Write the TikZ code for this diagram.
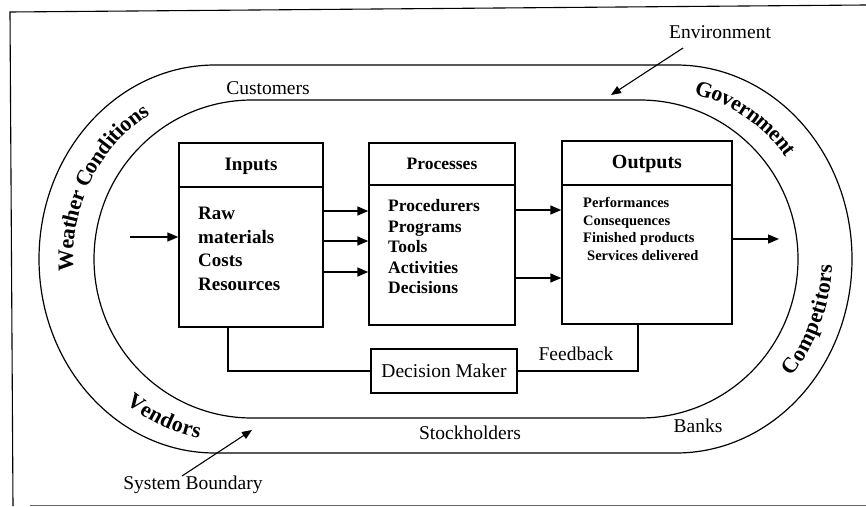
\documentclass[tikz,border=0pt]{standalone}
\usepackage{fontspec}
\setmainfont{Liberation Serif}
\usetikzlibrary{arrows.meta,decorations.text}

\begin{document}
\begin{tikzpicture}[x=1pt,y=-1pt,
  frameline/.style={line width=1.1pt},
  ovalline/.style={line width=1.2pt},
  boxline/.style={draw,line width=1.4pt,inner sep=0pt},
  link/.style={line width=1.3pt},
  arr/.style={line width=1.4pt,-{Triangle[length=11pt,width=9pt]}},
  thinarr/.style={line width=1.1pt,-{Triangle[length=10pt,width=8pt]}},
  lbl/.style={inner sep=0pt,font=\fontsize{19.5}{22}\selectfont},
  head/.style={inner sep=0pt,font=\bfseries\fontsize{19}{22}\selectfont},
  ring/.style={decorate,decoration={text along path,text align=center,raise=-7pt,
     text={|\bfseries\fontsize{22}{22}\selectfont|#1}}}
]
\useasboundingbox (0,0) rectangle (866,506);

% page frame
\draw[frameline] (866,5) -- (10,12) -- (13,506);
\draw[line width=0.6pt,black!60] (30,505) -- (866,505);

% environment (outer) and system boundary (inner) ovals
\draw[ovalline] (215,65) -- (676,65)
  arc[start angle=-90,end angle=90,x radius=176,y radius=194]
  -- (215,453)
  arc[start angle=90,end angle=270,x radius=176,y radius=194] -- cycle;
\draw[ovalline] (252,100) -- (640,100)
  arc[start angle=-90,end angle=90,x radius=158,y radius=159]
  -- (252,418)
  arc[start angle=90,end angle=270,x radius=158,y radius=159] -- cycle;

% curved names in the band between the ovals
\path[ring={Weather Conditions}] (233,259) ++(168:167 and 176)
  arc[start angle=168,end angle=247,x radius=167,y radius=176];
\path[ring={Government}] (658,259) ++(-84:167 and 176)
  arc[start angle=-84,end angle=-30,x radius=167,y radius=176];
\path[ring={Competitors}] (658,259) ++(46:167 and 176)
  arc[start angle=46,end angle=-4,x radius=167,y radius=176];
\path[ring={Vendors}] (233,259) ++(137:167 and 176)
  arc[start angle=137,end angle=92,x radius=167,y radius=176];

% the three stage boxes
\node[boxline,minimum width=144pt,minimum height=184pt] (inbox) at (251,235) {};
\node[boxline,minimum width=146pt,minimum height=182pt] (prbox) at (442,234) {};
\node[boxline,minimum width=170pt,minimum height=183pt] (outbox) at (647,232.5) {};
\draw[link] (inbox.west |- 0,187) -- (inbox.east |- 0,187);
\draw[link] (prbox.west |- 0,185) -- (prbox.east |- 0,185);
\draw[link] (outbox.west |- 0,185) -- (outbox.east |- 0,185);

\node[head] (inhead) at (251,166) {Inputs};
\node[head,font=\bfseries\fontsize{17.5}{20}\selectfont] (prhead) at (442,164) {Processes};
\node[head,font=\bfseries\fontsize{20}{22}\selectfont] (outhead) at (647,164) {Outputs};

\node[inner sep=0pt,anchor=west,align=left,font=\bfseries\fontsize{19}{23.7}\selectfont]
  (inlist) at (198,249) {Raw\\materials\\Costs\\Resources};
\node[inner sep=0pt,anchor=west,align=left,font=\bfseries\fontsize{17.5}{20.5}\selectfont]
  (prlist) at (388,247) {Procedurers\\Programs\\Tools\\Activities\\Decisions};
\node[inner sep=0pt,anchor=west,align=left,font=\bfseries\fontsize{14.5}{17.5}\selectfont]
  (outlist) at (583,229) {Performances\\Consequences\\Finished products\\\hspace*{4pt}Services delivered};

% flow arrows
\coordinate (src) at (130,237);
\coordinate (sink) at (779,239);
\draw[arr] (src) -- (inbox.west |- src);
\foreach \yy in {211,241,272}
  \draw[arr] (inbox.east |- 0,\yy) -- (prbox.west |- 0,\yy);
\foreach \yy in {210,278}
  \draw[arr] (prbox.east |- 0,\yy) -- (outbox.west |- 0,\yy);
\draw[arr] (outbox.east |- sink) -- (sink);

% feedback loop through the decision maker
\node[boxline,minimum width=146pt,minimum height=44pt,font=\fontsize{19.5}{22}\selectfont]
  (dm) at (444,371) {Decision Maker};
\draw[link] (outbox.south -| 638,0) |- (dm.east);
\draw[link] (inbox.south -| 228,0) |- (dm.west);
\node[lbl] (fb) at (576,354) {Feedback};

% labels around the rings
\node[lbl] (env) at (720,32) {Environment};
\node[lbl] (cust) at (268,88) {Customers};
\node[lbl] (stock) at (470,433) {Stockholders};
\node[lbl] (banks) at (698,426) {Banks};
\node[lbl] (sysb) at (193,485) {System Boundary};

\coordinate (envtail) at (683,48);
\coordinate (envtip) at (611,95);
\draw[thinarr] (envtail) -- (envtip);
\coordinate (sbtail) at (182,476);
\coordinate (sbtip) at (252,430);
\draw[thinarr] (sbtail) -- (sbtip);
\end{tikzpicture}
\end{document}
